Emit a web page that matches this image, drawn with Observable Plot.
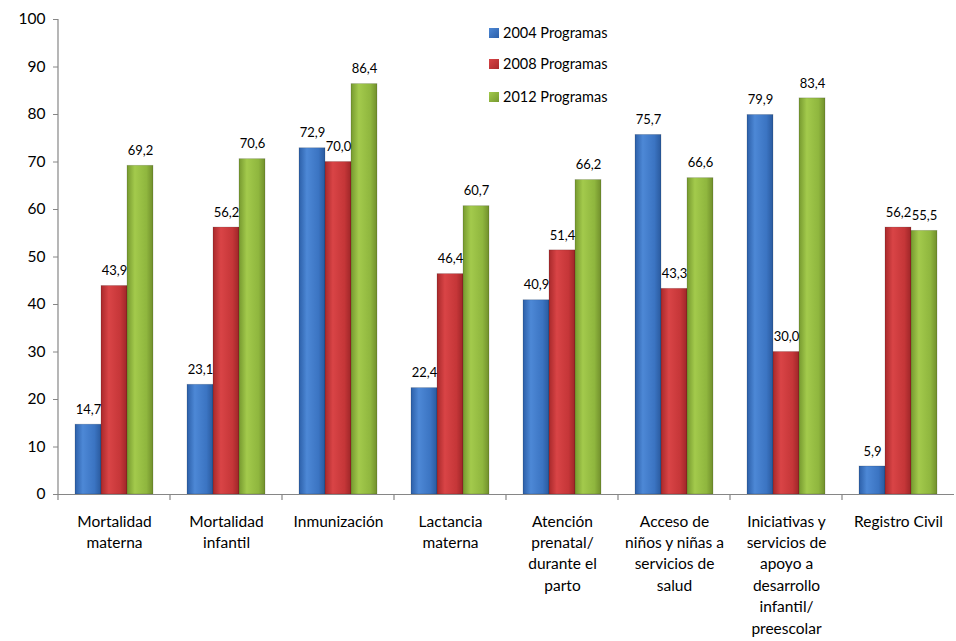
<!DOCTYPE html>
<html><head><meta charset="utf-8">
<script src="https://cdn.jsdelivr.net/npm/d3@7"></script>
<script src="https://cdn.jsdelivr.net/npm/@observablehq/plot@0.6"></script>
<style>
body{margin:0;background:#fff;font-family:Lato,"Open Sans",sans-serif;}
#wrap{position:relative;width:956px;height:641px;}
.leg{position:absolute;left:489px;font-size:14.5px;color:#000;display:flex;align-items:center;}
.leg span.sw{display:inline-block;width:10px;height:10px;margin-right:4px;}
</style>
</head><body>
<div id="wrap"></div>
<script>
const categories = ["Mortalidad materna","Mortalidad infantil","Inmunización","Lactancia materna","Atención prenatal/ durante el parto","Acceso de niños y niñas a servicios de salud","Iniciativas y servicios de apoyo a desarrollo infantil/ preescolar","Registro Civil"];
const catLabels = ["Mortalidad\nmaterna","Mortalidad\ninfantil","Inmunización","Lactancia\nmaterna","Atención\nprenatal/\ndurante el\nparto","Acceso de\nniños y niñas a\nservicios de\nsalud","Iniciativas y\nservicios de\napoyo a\ndesarrollo\ninfantil/\npreescolar","Registro Civil"];
const series = ["2004 Programas","2008 Programas","2012 Programas"];
const v2004 = [14.7,23.1,72.9,22.4,40.9,75.7,79.9,5.9];
const v2008 = [43.9,56.2,70.0,46.4,51.4,43.3,30.0,56.2];
const v2012 = [69.2,70.6,86.4,60.7,66.2,66.6,83.4,55.5];
const yTicks = [0,10,20,30,40,50,60,70,80,90,100];
const gradIds = ["gBlue","gRed","gGreen"];
const gradStops = [["#2c5fa8","#4d88d6","#3b74c2","#2a5a9e"],["#a8292b","#d94446","#c53638","#9e2628"],["#76992f","#a3ca4c","#8fb63e","#718f2c"]];

const data = categories.flatMap((c,i)=>[
  {cat:c,serie:series[0],value:v2004[i]},
  {cat:c,serie:series[1],value:v2008[i]},
  {cat:c,serie:series[2],value:v2012[i]}
]);
const fmt = d => d.toFixed(1).replace(".",",");

const plot = Plot.plot({
  width:956,height:641,
  marginTop:19,marginBottom:147,marginLeft:56,marginRight:0,
  style:{fontFamily:"Lato, 'Open Sans', sans-serif",fontSize:"15px",background:"white",color:"#000"},
  fx:{domain:categories,padding:0},
  x:{domain:series,axis:null,paddingInner:0,paddingOuter:0.65},
  y:{domain:[0,100],axis:null},
  color:{domain:series,range:gradIds.map(g=>`url(#${g})`)},
  marks:[
    Plot.axisY({ticks:yTicks,tickSize:5,tickPadding:8,fontSize:15.5,stroke:"#868686",label:null}),
    Plot.axisFx({anchor:"bottom",tickSize:0,tickPadding:17,fontSize:15.5,lineHeight:1.38,label:null,
      tickFormat:d=>catLabels[categories.indexOf(d)]}),
    Plot.barY(data,{fx:"cat",x:"serie",y:"value",fill:"serie",stroke:"rgba(0,0,0,0.18)",strokeWidth:0.8}),
    Plot.ruleY([0],{stroke:"#868686",strokeWidth:1.2}),
    Plot.text(data,{fx:"cat",x:"serie",y:"value",text:d=>fmt(d.value),dy:-15,fontSize:13})
  ]
});

const svg = d3.select(plot);
const defs = svg.insert("defs",":first-child");
gradIds.forEach((id,i)=>{
  const g = defs.append("linearGradient").attr("id",id).attr("x1","0").attr("x2","1").attr("y1","0").attr("y2","0");
  const s = gradStops[i];
  g.append("stop").attr("offset","0%").attr("stop-color",s[0]);
  g.append("stop").attr("offset","30%").attr("stop-color",s[1]);
  g.append("stop").attr("offset","75%").attr("stop-color",s[2]);
  g.append("stop").attr("offset","100%").attr("stop-color",s[3]);
});
const y = plot.scale("y");
const fx = plot.scale("fx");
const y0 = y.apply(0), y1 = y.apply(100);
const left = fx.apply(categories[0]);
svg.append("line").attr("x1",left).attr("x2",left).attr("y1",y1).attr("y2",y0).attr("stroke","#868686").attr("stroke-width",1.2);
categories.forEach(c=>{
  const xb = fx.apply(c);
  svg.append("line").attr("x1",xb).attr("x2",xb).attr("y1",y0).attr("y2",y0+6).attr("stroke","#868686").attr("stroke-width",1.2);
});

const wrap = document.getElementById("wrap");
wrap.appendChild(plot);
const legTops = [24,55,88];
series.forEach((s,i)=>{
  const d = document.createElement("div");
  d.className="leg"; d.style.top=legTops[i]+"px";
  const st = gradStops[i];
  d.innerHTML = `<span class="sw" style="background:linear-gradient(135deg,${st[1]},${st[0]})"></span>${s}`;
  wrap.appendChild(d);
});
</script>
</body></html>
